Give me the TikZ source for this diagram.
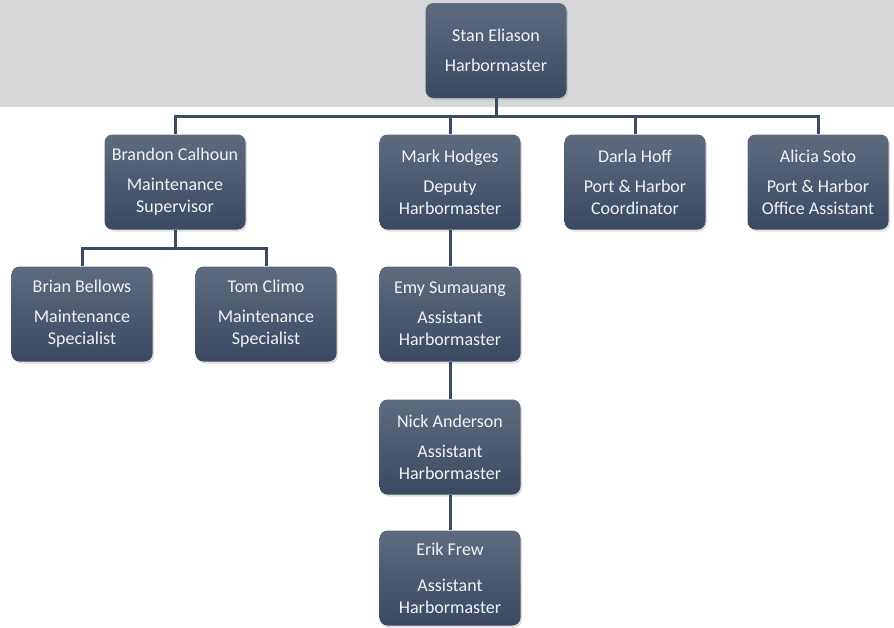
\documentclass[tikz,border=0pt]{standalone}
\usepackage{fontspec}
\setmainfont{Carlito}
\usepackage{tikz}
\usetikzlibrary{shadows}
\definecolor{boxtop}{HTML}{5E6B7F}
\definecolor{boxbot}{HTML}{3A4862}
\definecolor{band}{HTML}{D7D7D9}
\definecolor{wire}{HTML}{3D4A63}
\newcommand{\busy}[0]{116.5}
\newcommand{\subbusy}[0]{248}
\tikzset{
  person/.style={rounded corners=8pt, top color=boxtop, bottom color=boxbot,
    minimum width=141pt, minimum height=95pt, inner sep=0pt, text=white!95!black,
    align=center, font=\fontsize{18}{22}\selectfont,
    drop shadow={opacity=0.25, shadow xshift=1.5pt, shadow yshift=-2pt}},
  wire/.style={draw=wire, line width=3pt}
}
\begin{document}
\begin{tikzpicture}[x=1pt, y=-1pt]
\useasboundingbox (0,0) rectangle (894,627);
\fill[band] (0,0) rectangle (894,107);
\node[person] (stan) at (496,50.5) {Stan Eliason\\[8pt]Harbormaster};
\node[person] (brandon) at (175,182) {Brandon Calhoun\\[8pt]Maintenance\\Supervisor};
\node[person] (mark) at (450,182) {Mark Hodges\\[8pt]Deputy\\Harbormaster};
\node[person] (darla) at (635,182) {Darla Hoff\\[8pt]Port \& Harbor\\Coordinator};
\node[person] (alicia) at (818,182) {Alicia Soto\\[8pt]Port \& Harbor\\Office Assistant};
\node[person] (brian) at (82,314) {Brian Bellows\\[8pt]Maintenance\\Specialist};
\node[person] (tom) at (266,314) {Tom Climo\\[8pt]Maintenance\\Specialist};
\node[person] (emy) at (450,314) {Emy Sumauang\\[8pt]Assistant\\Harbormaster};
\node[person] (nick) at (450,447) {Nick Anderson\\[8pt]Assistant\\Harbormaster};
\node[person] (erik) at (450,578) {Erik Frew\\[14pt]Assistant\\Harbormaster};
% reporting lines
\draw[wire] (stan.south) -- (496,\busy);
\draw[wire] (brandon.north) |- (496,\busy) -| (alicia.north);
\draw[wire] (mark.north) -- (450,\busy);
\draw[wire] (darla.north) -- (635,\busy);
\draw[wire] (brandon.south) -- (175,\subbusy);
\draw[wire] (brian.north) |- (175,\subbusy) -| (tom.north);
\draw[wire] (mark.south) -- (emy.north);
\draw[wire] (emy.south) -- (nick.north);
\draw[wire] (nick.south) -- (erik.north);
\end{tikzpicture}
\end{document}
